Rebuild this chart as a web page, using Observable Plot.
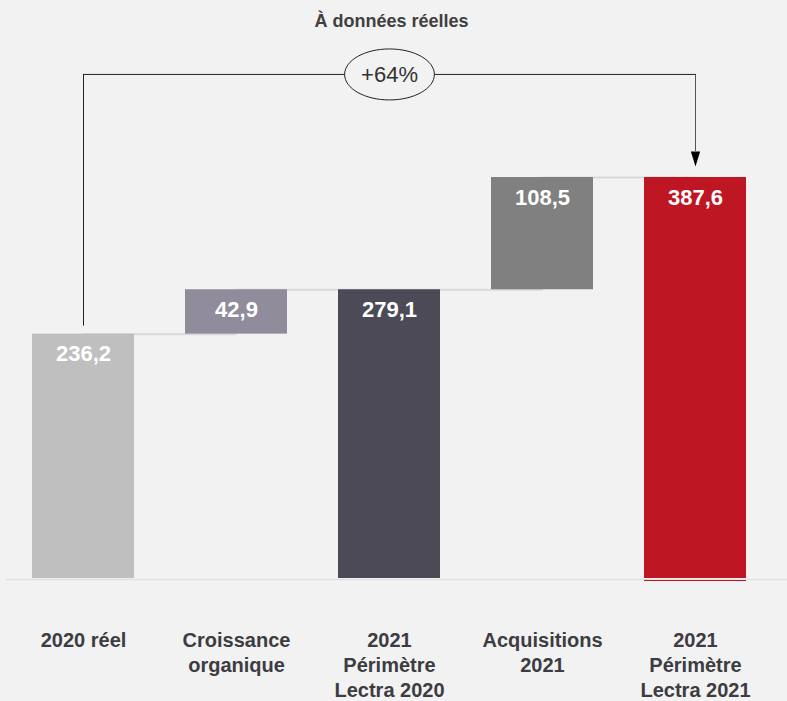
<!DOCTYPE html>
<html>
<head>
<meta charset="utf-8">
<script src="https://cdn.jsdelivr.net/npm/d3@7"></script>
<script src="https://cdn.jsdelivr.net/npm/@observablehq/plot@0.6"></script>
<style>
  html, body { margin: 0; padding: 0; background: #f2f2f2; }
  #chart svg { display: block; }
</style>
</head>
<body>
<div id="chart"></div>
<script>
// ---- data ----
const title = "À données réelles";
const categories = ["2020 réel", "Croissance organique", "2021 Périmètre Lectra 2020", "Acquisitions 2021", "2021 Périmètre Lectra 2021"];
const tickLabels = ["2020 réel", "Croissance\norganique", "2021\nPérimètre\nLectra 2020", "Acquisitions\n2021", "2021\nPérimètre\nLectra 2021"];
const values = [236.2, 42.9, 279.1, 108.5, 387.6];
const kinds = ["total", "delta", "total", "delta", "total"];
const colors = ["#bfbfbf", "#908c9b", "#4c4a56", "#808080", "#be1622"];

// ---- derived table ----
let run = 0;
const rows = categories.map((cat, i) => {
  let y1, y2;
  if (kinds[i] === "total") { y1 = 0; y2 = values[i]; }
  else { y1 = run; y2 = run + values[i]; }
  run = y2;
  return {cat, label: tickLabels[i], value: values[i], y1, y2, color: colors[i]};
});
const connectors = rows.slice(0, -1).map((r, i) => ({from: r.cat, to: rows[i + 1].cat, y: r.y2}));
const first = rows[0], last = rows[rows.length - 1];
const maxTotal = d3.max(rows, d => d.y2);
const bracketLevel = maxTotal * 1.257;
const growth = Math.round((last.value / first.value - 1) * 100);
const fmt = v => v.toFixed(1).replace(".", ",");

const ellipse = {
  draw(ctx, size) {
    const r = Math.sqrt(size / Math.PI), rx = r * 1.76, ry = r, k = 0.5523;
    ctx.moveTo(rx, 0);
    ctx.bezierCurveTo(rx, ry * k, rx * k, ry, 0, ry);
    ctx.bezierCurveTo(-rx * k, ry, -rx, ry * k, -rx, 0);
    ctx.bezierCurveTo(-rx, -ry * k, -rx * k, -ry, 0, -ry);
    ctx.bezierCurveTo(rx * k, -ry, rx, -ry * k, rx, 0);
    ctx.closePath();
  }
};
const downTriangle = {
  draw(ctx, size) {
    const r = Math.sqrt(size / Math.PI);
    ctx.moveTo(-r * 0.93, -r * 1.5);
    ctx.lineTo(r * 0.93, -r * 1.5);
    ctx.lineTo(0, r * 1.5);
    ctx.closePath();
  }
};

const font = "'Liberation Sans', Arial, Helvetica, sans-serif";

const chart = Plot.plot({
  width: 787,
  height: 701,
  marginTop: 0,
  marginBottom: 123,
  marginLeft: 5,
  marginRight: 0,
  style: {background: "#f2f2f2", fontFamily: font, overflow: "visible"},
  x: {domain: categories, range: [32, 746], paddingInner: 1 / 3, paddingOuter: 0, axis: null},
  y: {domain: [0, maxTotal], range: [578, 177], axis: null},
  color: {type: "identity"},
  marks: [
    // connectors between bars
    Plot.link(connectors, {x1: "from", x2: "to", y1: "y", y2: "y", stroke: "#d9d9d9", strokeWidth: 2}),
    // bars
    Plot.barY(rows, {x: "cat", y1: "y1", y2: "y2", fill: "color"}),
    // baseline
    Plot.ruleY([0], {stroke: "#e2e2e2", strokeWidth: 1.5, dy: 1}),
    Plot.tickY([last], {x: "cat", y: () => 0, stroke: last.color, strokeWidth: 1, dy: 2}),
    // value labels
    Plot.text(rows, {x: "cat", y: "y2", text: d => fmt(d.value), dy: 20, fill: "white", fontSize: 22, fontWeight: "bold"}),
    // category labels
    Plot.text(rows, {x: "cat", text: "label", frameAnchor: "bottom", lineAnchor: "top", dy: 51, fontSize: 20, fontWeight: "bold", lineHeight: 1.25, fill: "#3c3c42"}),
    // bracket
    Plot.ruleX([first], {x: "cat", y1: () => bracketLevel, y2: "y2", insetBottom: 8, stroke: "#222", strokeWidth: 1}),
    Plot.ruleX([last], {x: "cat", y1: () => bracketLevel, y2: "y2", insetBottom: 26, stroke: "#555", strokeWidth: 1}),
    Plot.link([{from: first.cat, to: last.cat}], {x1: "from", x2: "to", y1: () => bracketLevel, y2: () => bracketLevel, stroke: "#222", strokeWidth: 1}),
    Plot.dot([last], {x: "cat", y: "y2", dy: -18.5, symbol: downTriangle, r: 5, fill: "#000", stroke: "none"}),
    Plot.dot([categories[2]], {x: d => d, y: () => bracketLevel, symbol: ellipse, r: 25.5, fill: "#f2f2f2", stroke: "#222", strokeWidth: 1}),
    Plot.text([`+${growth}%`], {x: () => categories[2], y: () => bracketLevel, text: d => d, dy: 1, fontSize: 22, fill: "#333"}),
    // title
    Plot.text([title], {frameAnchor: "top", text: d => d, dy: 26, dx: -5, lineAnchor: "bottom", fontSize: 18, fontWeight: "bold", fill: "#404040"})
  ]
});
document.getElementById("chart").appendChild(chart);
</script>
</body>
</html>
